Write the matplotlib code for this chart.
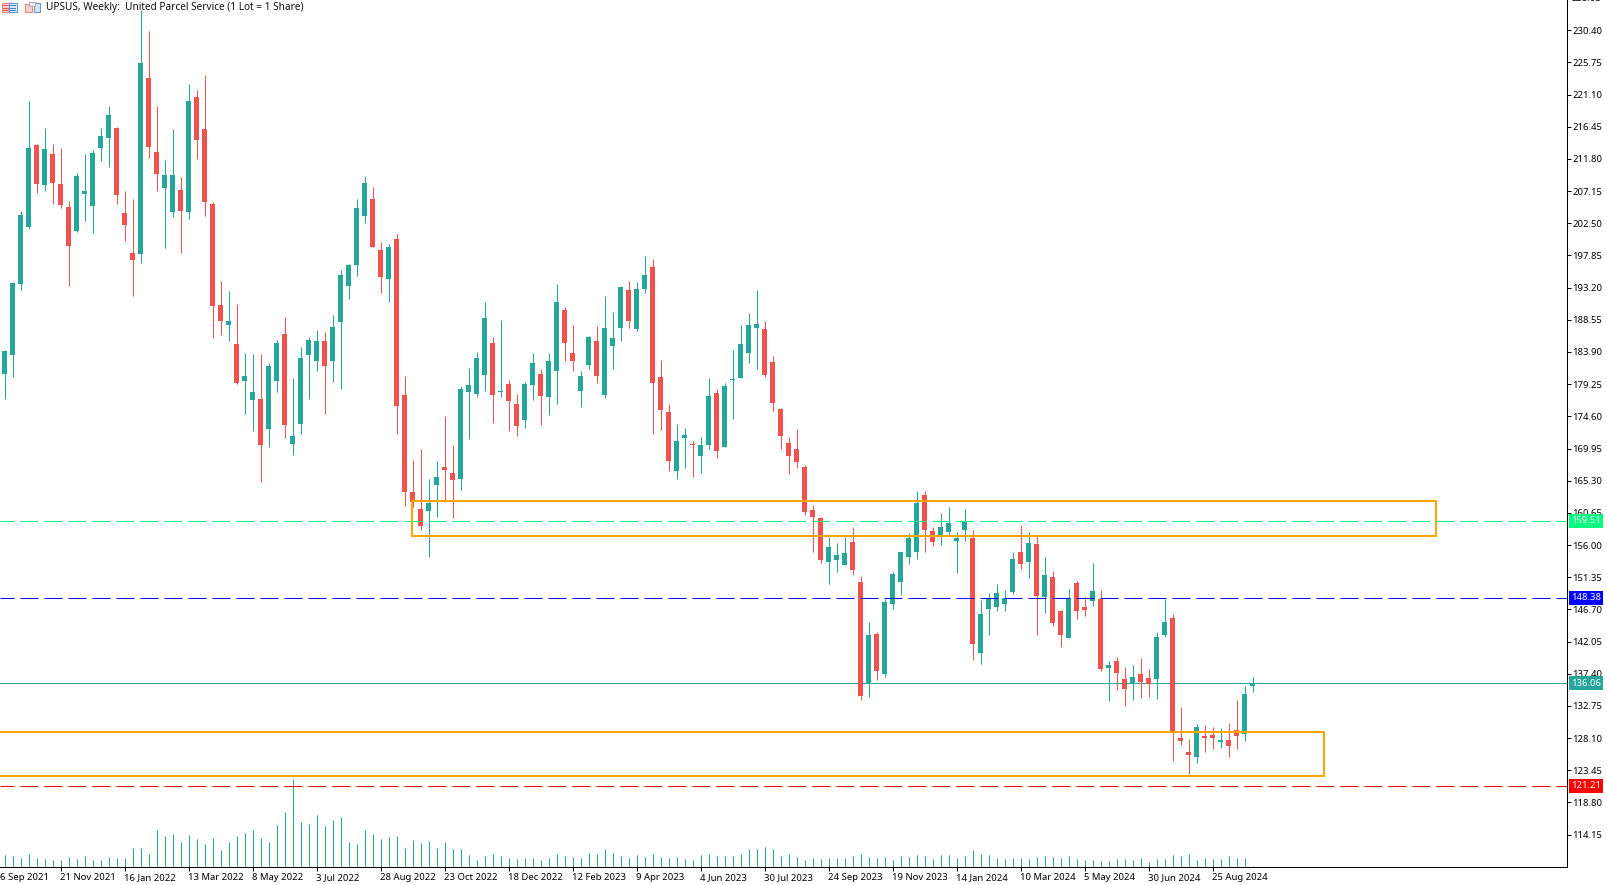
#!/usr/bin/env python3
"""UPSUS weekly candles with volume, zones and price lines, MT5 look."""
import numpy as np
import matplotlib
matplotlib.use('Agg')
import matplotlib.pyplot as plt
from matplotlib import patches
from matplotlib.transforms import blended_transform_factory

W, H, DPI = 1607, 885, 100
PX = 72 / DPI  # one pixel in points
plt.rcParams['lines.scale_dashes'] = False

UP = '#26A69A'
DOWN = '#EF5350'
ORANGE = '#FFA500'
FONT = ['Noto Sans', 'DejaVu Sans']
TICK_SIZE = 6.85

opens = [180.78, 183.53, 193.79, 202.02, 213.83, 208.09, 212.53, 208.19, 204.87, 201.45,
         206.79, 205.06, 213.44, 214.89, 216.28, 204.00, 198.22, 198.12, 223.51, 212.81,
         207.66, 204.19, 207.32, 204.19, 220.76, 216.14, 205.30, 190.70, 187.86, 185.07,
         179.77, 177.02, 177.12, 172.83, 179.77, 186.51, 170.67, 173.56, 183.53, 182.66,
         185.50, 182.66, 188.30, 193.50, 196.53, 203.61, 206.02, 198.65, 194.51, 200.24,
         177.70, 163.68, 161.22, 160.98, 164.74, 167.29, 166.43, 165.61, 178.18, 177.89,
         180.64, 185.21, 178.13, 179.29, 176.40, 174.13, 179.19, 180.73, 177.46, 181.21,
         189.98, 183.77, 178.32, 182.08, 185.50, 177.75, 184.83, 187.43, 192.87, 187.28,
         193.06, 196.20, 180.30, 175.24, 166.76, 171.48, 170.62, 168.93, 170.52, 177.99,
         170.23, 179.91, 180.20, 183.82, 187.43, 187.24, 182.47, 175.67, 170.76, 169.90,
         167.29, 161.08, 159.92, 153.61, 153.90, 153.18, 156.45, 150.68, 135.98, 143.16,
         137.43, 147.54, 150.72, 154.34, 155.06, 163.25, 158.04, 157.51, 157.95, 156.65,
         158.24, 157.03, 140.46, 146.82, 147.11, 147.54, 149.28, 155.01, 153.61, 156.17,
         148.51, 151.40, 146.48, 142.63, 150.53, 147.06, 147.98, 148.22, 138.25, 139.26,
         136.66, 135.98, 137.38, 136.80, 136.71, 143.06, 145.47, 128.13, 126.11, 125.43,
         128.42, 128.56, 127.55, 127.84, 129.29, 128.76, 135.65]
highs = [184.20, 194.03, 204.29, 220.18, 213.97, 216.28, 213.97, 213.39, 205.73, 209.78,
         212.53, 213.10, 216.28, 219.46, 216.48, 207.18, 206.02, 233.33, 230.30, 219.46,
         211.66, 216.14, 209.20, 222.64, 221.77, 223.94, 205.59, 194.17, 192.73, 190.85,
         183.77, 183.62, 183.62, 182.32, 185.65, 188.97, 180.15, 184.63, 186.08, 187.09,
         186.80, 189.26, 195.76, 196.63, 206.02, 209.35, 207.76, 199.81, 199.52, 200.96,
         180.44, 168.30, 169.90, 165.56, 168.16, 174.66, 170.47, 179.00, 181.60, 183.91,
         191.14, 186.08, 188.54, 179.87, 177.84, 179.58, 183.77, 181.46, 183.77, 193.74,
         190.42, 187.81, 181.17, 186.22, 187.67, 192.00, 189.69, 193.45, 194.17, 194.03,
         197.78, 197.35, 182.76, 176.40, 173.51, 172.93, 171.05, 171.63, 180.15, 178.57,
         179.43, 184.20, 187.81, 189.55, 192.87, 188.39, 183.33, 175.82, 171.63, 172.78,
         167.58, 161.80, 160.00, 157.18, 156.31, 157.23, 158.62, 151.54, 144.89, 143.45,
         148.22, 152.12, 155.01, 157.76, 163.82, 163.82, 158.62, 160.65, 161.51, 157.90,
         161.22, 158.19, 148.07, 149.09, 150.39, 149.52, 155.01, 158.91, 157.90, 157.32,
         154.29, 152.26, 146.63, 149.66, 150.82, 148.51, 153.42, 149.52, 139.26, 139.84,
         138.39, 138.68, 139.69, 138.10, 143.45, 148.22, 146.05, 132.61, 127.99, 130.15,
         130.01, 129.72, 129.58, 130.30, 133.67, 135.65, 136.95]
lows = [177.17, 180.35, 192.92, 201.74, 206.94, 207.23, 205.35, 204.77, 193.50, 201.30,
        202.89, 201.16, 211.56, 210.69, 205.35, 200.00, 192.05, 196.82, 212.00, 207.23,
        198.99, 203.47, 198.27, 203.18, 211.85, 203.61, 185.98, 186.42, 185.55, 179.34,
        175.00, 172.54, 165.17, 170.23, 178.18, 171.53, 169.08, 172.11, 177.17, 181.21,
        175.00, 179.63, 178.61, 191.62, 194.94, 202.60, 199.13, 192.49, 191.19, 172.11,
        161.66, 161.56, 158.24, 154.34, 160.12, 162.28, 159.97, 164.02, 171.39, 177.46,
        178.32, 173.70, 177.46, 172.54, 171.82, 172.98, 177.02, 173.41, 174.86, 176.45,
        182.66, 181.21, 176.01, 181.50, 179.48, 177.31, 181.50, 185.55, 187.43, 186.99,
        192.49, 172.11, 172.69, 166.76, 165.61, 167.20, 165.90, 166.47, 169.94, 168.64,
        170.23, 174.28, 180.20, 182.37, 181.50, 180.35, 175.43, 169.94, 166.33, 167.20,
        160.40, 155.06, 153.47, 150.43, 152.17, 153.13, 151.73, 133.67, 134.10, 136.56,
        136.99, 146.82, 148.84, 153.32, 154.05, 155.06, 155.93, 156.07, 157.51, 152.02,
        156.65, 139.45, 138.87, 143.06, 146.53, 146.53, 148.99, 152.60, 151.30, 143.06,
        146.24, 144.36, 141.33, 142.63, 145.38, 145.81, 147.25, 137.86, 133.53, 135.12,
        132.80, 133.67, 133.96, 134.10, 133.82, 142.77, 124.85, 127.12, 122.98, 124.57,
        126.11, 126.54, 126.73, 125.43, 126.59, 127.74, 134.83]
closes = [184.06, 193.88, 203.71, 213.39, 208.24, 213.25, 208.38, 205.20, 199.28, 209.35,
          207.18, 212.67, 215.13, 218.16, 206.65, 202.31, 197.26, 225.68, 213.59, 209.68,
          209.49, 209.49, 204.34, 220.18, 214.60, 205.64, 190.61, 188.44, 188.39, 179.48,
          180.44, 178.13, 170.52, 181.89, 185.21, 173.41, 171.77, 183.05, 185.65, 185.50,
          181.94, 187.52, 195.04, 196.48, 204.72, 208.33, 199.13, 194.80, 199.09, 176.16,
          163.73, 162.28, 158.82, 162.09, 165.85, 166.86, 165.46, 178.57, 179.14, 183.05,
          188.83, 177.75, 178.28, 176.88, 173.27, 179.29, 182.32, 177.60, 182.61, 191.14,
          185.26, 182.66, 180.44, 186.08, 180.49, 187.38, 185.94, 193.31, 188.44, 193.02,
          195.04, 179.48, 175.58, 168.21, 171.05, 171.92, 170.52, 170.47, 177.55, 169.65,
          179.00, 180.01, 185.07, 187.81, 187.96, 180.64, 176.59, 171.82, 168.93, 168.06,
          160.84, 160.12, 153.90, 155.73, 154.58, 154.87, 152.46, 134.25, 143.02, 137.86,
          147.78, 151.83, 155.01, 157.03, 162.09, 158.24, 156.50, 158.62, 159.20, 157.03,
          159.34, 141.76, 146.05, 148.22, 149.09, 148.36, 154.00, 153.32, 156.31, 148.70,
          151.69, 144.80, 143.06, 148.22, 146.53, 146.68, 149.37, 138.15, 138.68, 137.57,
          135.26, 136.95, 136.23, 135.98, 142.73, 144.89, 128.95, 127.70, 125.67, 129.72,
          128.13, 128.13, 127.84, 127.02, 128.47, 134.49, 136.08]
# tick volume, no scale on the chart so the unit is arbitrary
volumes = [34, 31, 25, 37, 25, 22, 19, 19, 28, 22, 31, 19, 19, 28, 25, 25, 55, 55, 37, 109,
           91, 97, 73, 94, 82, 67, 85, 49, 73, 91, 100, 109, 85, 73, 124, 163, 262, 133, 127, 154,
           121, 139, 148, 73, 67, 109, 97, 82, 88, 91, 55, 79, 70, 76, 55, 73, 52, 52, 34, 19,
           31, 37, 31, 25, 22, 25, 25, 19, 25, 37, 31, 28, 25, 40, 37, 52, 40, 31, 25, 34,
           28, 37, 28, 25, 28, 22, 19, 34, 37, 31, 31, 31, 37, 52, 52, 58, 52, 31, 37, 28,
           19, 25, 22, 25, 25, 25, 31, 37, 28, 25, 28, 19, 31, 28, 34, 31, 22, 34, 34, 25,
           31, 49, 37, 34, 25, 22, 25, 25, 22, 28, 31, 28, 25, 31, 22, 19, 19, 16, 16, 22,
           22, 19, 25, 13, 22, 22, 34, 31, 37, 19, 25, 22, 22, 31, 25, 25, 3]

price_ticks = [230.40, 225.75, 221.10, 216.45, 211.80, 207.15, 202.50, 197.85, 193.20,
               188.55, 183.90, 179.25, 174.60, 169.95, 165.30, 160.65, 156.00, 151.35,
               146.70, 142.05, 137.40, 132.75, 128.10, 123.45, 118.80, 114.15]
date_ticks = [7, 15, 23, 31, 39, 47, 55, 63, 71, 79, 87, 95, 103, 111, 119, 127, 135, 143, 151]
date_labels = ['21 Nov 2021', '16 Jan 2022', '13 Mar 2022', '8 May 2022', '3 Jul 2022',
               '28 Aug 2022', '23 Oct 2022', '18 Dec 2022', '12 Feb 2023', '9 Apr 2023',
               '4 Jun 2023', '30 Jul 2023', '24 Sep 2023', '19 Nov 2023', '14 Jan 2024',
               '10 Mar 2024', '5 May 2024', '30 Jun 2024', '25 Aug 2024']

resistance, pivot, support, last_price = 159.51, 148.38, 121.21, 136.06
# (first bar, last bar, low, high)
zones = [(50.94, 178.9, 157.35, 162.36), (-3.0, 164.9, 122.67, 128.98)]

x = np.arange(len(opens))
o, h, l, c = map(np.array, (opens, highs, lows, closes))
colors = np.where(c >= o, UP, DOWN)

fig = plt.figure(figsize=(W / DPI, H / DPI), dpi=DPI, facecolor='white')
ax = fig.add_axes([0, 18.5 / H, 1566.5 / W, 866.5 / H])
ax.set_xlim(-0.5625, 195.25)
ax.set_ylim(109.55, 234.764)
ax.set_zorder(2)
ax.patch.set_alpha(0)

# ── volume, on its own scale under the candles ──
vol = fig.add_axes(ax.get_position())
vol.set_xlim(ax.get_xlim())
vol.set_ylim(0, 866.5 * 3)
vol.axis('off')
vol.vlines(x, 0, volumes, color=UP, lw=PX)

# ── price line, candles, levels, zones ──
ax.axhline(last_price, color=UP, lw=PX, zorder=1)
ax.vlines(x, l, h, colors=colors, lw=PX, zorder=2)
ax.bar(x, np.maximum(np.abs(c - o), 0.145), bottom=np.minimum(o, c), width=0.625,
       color=colors, linewidth=0, zorder=2.5)
dash = (4 * PX, (18 * PX, 6 * PX))
for level, col in [(resistance, '#00FF7F'), (pivot, '#0000FF'), (support, '#FF0000')]:
    ln = ax.axhline(level, color=col, lw=PX, zorder=3)
    ln.set_linestyle(dash)
    ln.set_dash_capstyle('butt')
for x0, x1, y0, y1 in zones:
    ax.add_patch(patches.Rectangle((x0, y0), x1 - x0, y1 - y0, fill=False,
                                   ec=ORANGE, lw=2 * PX, zorder=4))

# ── axes ──
for side in ('left', 'top'):
    ax.spines[side].set_visible(False)
for side in ('right', 'bottom'):
    ax.spines[side].set_linewidth(PX)
ax.yaxis.tick_right()
ax.set_yticks(price_ticks, [f'{p:.2f}' for p in price_ticks], fontsize=TICK_SIZE, family=FONT)
ax.set_xticks(date_ticks, date_labels, fontsize=TICK_SIZE, family=FONT, ha='left')
ax.tick_params(axis='y', length=3 * PX * 1.4, width=PX, pad=1.0)
ax.tick_params(axis='x', length=4 * PX, width=PX, pad=1.8)

# labels the tick machinery cannot place: off the view or clipped by the figure edge
ytrans = blended_transform_factory(ax.transAxes, ax.transData)
ax.text((1571.5 / 1566.5), 235.05, '235.05', transform=ytrans, fontsize=TICK_SIZE, family=FONT,
        va='center', clip_on=False)
xtrans = blended_transform_factory(ax.transData, ax.transAxes)
ax.text(-0.5625, -10.5 / 866.5, '6 Sep 2021', transform=xtrans, fontsize=TICK_SIZE, family=FONT,
        va='center', ha='left', clip_on=False)

for level, col in [(resistance, '#00FF7F'), (pivot, '#0000FF'),
                   (last_price, UP), (support, '#FF0000')]:
    ax.text(1586 / 1566.5, level, f'{level:.2f}', transform=ytrans, color='white', fontsize=TICK_SIZE,
            family=FONT, ha='center', va='center', clip_on=False, zorder=6,
            bbox=dict(boxstyle='square,pad=0.25', fc=col, ec='none'))

# ── header with its two toolbar icons, in pixel space ──
top = fig.add_axes([0, 0, 1, 1], zorder=5)
top.set_xlim(0, W)
top.set_ylim(H, 0)
top.axis('off')
top.patch.set_alpha(0)
top.add_patch(patches.Rectangle((1.5, 2.5), 7, 9, fc='#FBD0CC', ec='#F08078', lw=PX))
top.add_patch(patches.Rectangle((8.5, 2.5), 8, 9, fc='#D4E6F6', ec='#5A9BD5', lw=PX))
for yy in (5, 7.5, 10):
    top.plot([3, 8], [yy, yy], color='#EF5350', lw=PX)
    top.plot([10, 15], [yy, yy], color='#3F88C8', lw=PX)
top.add_patch(patches.Rectangle((24.5, 3.5), 7, 8, fc='#FBD0CC', ec='#F08078', lw=PX))
top.add_patch(patches.Rectangle((33.5, 2.5), 6, 9, fc='#D4E6F6', ec='#5A9BD5', lw=PX))
top.add_patch(patches.Rectangle((28.5, 1.5), 6, 4, fc='#EEEEEE', ec='#AAAAAA', lw=PX))
top.text(46.5, 7.2, 'UPSUS, Weekly:  United Parcel Service (1 Lot = 1 Share)', fontsize=7.25,
         family=FONT, va='center', ha='left', color='#111111')

fig.savefig('out.png', dpi=DPI, facecolor='white')
